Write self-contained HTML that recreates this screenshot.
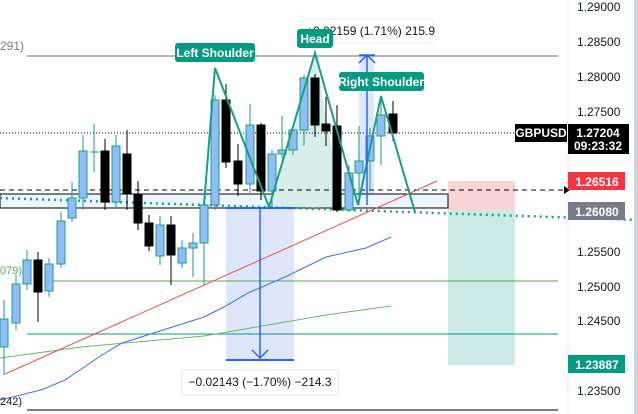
<!DOCTYPE html>
<html><head><meta charset="utf-8"><style>
html,body{margin:0;padding:0;background:#fff;}
svg{display:block;font-family:"Liberation Sans",sans-serif;}
</style></head><body>
<svg width="638" height="414" viewBox="0 0 638 414" xmlns="http://www.w3.org/2000/svg">
<rect width="638" height="414" fill="#fff"/>
<!-- boxes -->
<rect x="448" y="181" width="67" height="29" fill="#f9d4d4"/>
<rect x="448" y="210" width="67" height="155" fill="#cdebe6"/>
<rect x="226" y="208" width="68" height="152" fill="#dde6fb"/>
<rect x="359" y="55" width="15" height="150" fill="#dde6fb"/>
<rect x="0" y="194" width="448" height="14" fill="#eef6fd" stroke="#000" stroke-width="1"/>
<polygon points="269,207 315,53 342,206 360,207" fill="#d7eee9"/>
<!-- horizontal lines -->
<line x1="27" y1="56" x2="558" y2="56" stroke="#6b6b73" stroke-width="1"/>
<line x1="53" y1="281" x2="558" y2="281" stroke="#4caf50" stroke-width="1"/>
<line x1="27" y1="334" x2="558" y2="334" stroke="#089981" stroke-width="1"/>
<line x1="27" y1="410" x2="558" y2="410" stroke="#000" stroke-width="1"/>
<line x1="0" y1="190" x2="568" y2="190" stroke="#000" stroke-width="1" stroke-dasharray="5,4"/>
<line x1="0" y1="133" x2="517" y2="133" stroke="#000" stroke-width="1" stroke-dasharray="1,2"/>
<line x1="0" y1="198" x2="638" y2="220" stroke="#1a9e8a" stroke-width="2.5" stroke-dasharray="2,4"/>
<!-- MAs -->
<polyline points="0,358 81,347 204,336 326,315 391,306" fill="none" stroke="#66bb6a" stroke-width="1"/>
<polyline points="0,400 41,390 65,380 102,355 122,343 163,330 204,317 224,307 248,293 285,277 326,257 366,248 391,237" fill="none" stroke="#3d6ff0" stroke-width="1"/>
<line x1="5" y1="374" x2="437" y2="181" stroke="#f0504a" stroke-width="1"/>
<!-- candles -->
<g stroke-width="1">
<g stroke="#1a9e8a" fill="#90bdf7">
<line x1="4" y1="300" x2="4" y2="375"/><rect x="0" y="319" width="8" height="28"/>
<line x1="16" y1="275" x2="16" y2="330"/><rect x="12" y="284" width="8" height="39"/>
<line x1="27" y1="250" x2="27" y2="290"/><rect x="23" y="260" width="8" height="24"/>
<line x1="49" y1="258" x2="49" y2="297"/><rect x="45" y="264" width="8" height="27"/>
<line x1="61" y1="212" x2="61" y2="268"/><rect x="57" y="221" width="8" height="43"/>
<line x1="72" y1="182" x2="72" y2="222"/><rect x="68" y="198" width="8" height="20"/>
<line x1="83" y1="135" x2="83" y2="210"/><rect x="79" y="151" width="8" height="47"/>
<line x1="94" y1="124" x2="94" y2="172"/><line x1="90" y1="152" x2="99" y2="152"/>
<line x1="116" y1="135" x2="116" y2="208"/><rect x="112" y="146" width="8" height="56"/>
<line x1="160" y1="216" x2="160" y2="265"/><rect x="156" y="225" width="8" height="31"/>
<line x1="182" y1="240" x2="182" y2="268"/><rect x="178" y="248" width="8" height="15"/>
<line x1="193" y1="233" x2="193" y2="277"/><rect x="189" y="243" width="8" height="5"/>
<line x1="204" y1="200" x2="204" y2="285"/><rect x="200" y="205" width="8" height="38"/>
<line x1="215" y1="95" x2="215" y2="210"/><rect x="211" y="100" width="8" height="105"/>
<line x1="250" y1="104" x2="250" y2="193"/><rect x="246" y="125" width="8" height="59"/>
<line x1="272" y1="150" x2="272" y2="208"/><rect x="268" y="154" width="8" height="37"/>
<line x1="282" y1="116" x2="282" y2="158"/><rect x="278" y="150" width="8" height="4"/>
<line x1="293" y1="130" x2="293" y2="155"/><rect x="289" y="130" width="8" height="20"/>
<line x1="304" y1="75" x2="304" y2="146"/><rect x="300" y="78" width="8" height="52"/>
<line x1="349" y1="165" x2="349" y2="212"/><rect x="345" y="173" width="8" height="37"/>
<line x1="359" y1="126" x2="359" y2="205"/><rect x="355" y="161" width="8" height="12"/>
<line x1="370" y1="128" x2="370" y2="190"/><rect x="366" y="136" width="8" height="25"/>
<line x1="381" y1="100" x2="381" y2="165"/><rect x="377" y="115" width="8" height="21"/>
</g>
<g stroke="#000" fill="#000">
<line x1="38" y1="252" x2="38" y2="322"/><rect x="34" y="260" width="8" height="32"/>
<line x1="105" y1="139" x2="105" y2="210"/><rect x="101" y="151" width="8" height="51"/>
<line x1="127" y1="130" x2="127" y2="210"/><rect x="123" y="154" width="8" height="40"/>
<line x1="138" y1="181" x2="138" y2="230"/><rect x="134" y="194" width="8" height="29"/>
<line x1="149" y1="215" x2="149" y2="251"/><rect x="145" y="223" width="8" height="23"/>
<line x1="171" y1="216" x2="171" y2="285"/><rect x="167" y="225" width="8" height="30"/>
<line x1="226" y1="84" x2="226" y2="168"/><rect x="222" y="100" width="8" height="62"/>
<line x1="238" y1="144" x2="238" y2="196"/><rect x="234" y="161" width="8" height="23"/>
<line x1="261" y1="123" x2="261" y2="200"/><rect x="257" y="125" width="8" height="66"/>
<line x1="315" y1="74" x2="315" y2="137"/><rect x="311" y="78" width="8" height="47"/>
<line x1="326" y1="97" x2="326" y2="146"/><rect x="322" y="124" width="8" height="7"/>
<line x1="337" y1="105" x2="337" y2="212"/><rect x="333" y="126" width="8" height="84"/>
<line x1="393" y1="101" x2="393" y2="141"/><rect x="389" y="114" width="8" height="19"/>
</g></g>
<!-- pattern -->
<polyline points="204,205 215,68 269,207 315,53 358,205 381,96 415,212" fill="none" stroke="#1a9e8a" stroke-width="2"/>
<!-- measure arrows -->
<line x1="226" y1="208" x2="294" y2="208" stroke="#2962ff" stroke-width="2"/>
<line x1="226" y1="360" x2="294" y2="360" stroke="#2962ff" stroke-width="2"/>
<line x1="260" y1="208" x2="260" y2="358" stroke="#2962ff" stroke-width="1.5"/>
<polyline points="252,350 260,358 268,350" fill="none" stroke="#2962ff" stroke-width="1.5"/>
<line x1="367" y1="205" x2="367" y2="55" stroke="#2962ff" stroke-width="1.5"/>
<line x1="359" y1="55" x2="375" y2="55" stroke="#2962ff" stroke-width="1.5"/>
<polyline points="359,63 367,55 375,63" fill="none" stroke="#2962ff" stroke-width="1.5"/>
<!-- labels -->
<rect x="300" y="19" width="133" height="24" rx="3" fill="#fff" stroke="#eee"/>
<text x="306" y="35" font-size="12" fill="#131722">+0.02159 (1.71%) 215.9</text>
<rect x="175" y="43" width="80" height="19" rx="3" fill="#089981"/>
<text x="215" y="57" font-size="12" font-weight="bold" fill="#fff" text-anchor="middle">Left Shoulder</text>
<rect x="297" y="29" width="36" height="19" rx="3" fill="#089981"/>
<text x="315" y="43" font-size="12" font-weight="bold" fill="#fff" text-anchor="middle">Head</text>
<rect x="339" y="72" width="85" height="19" rx="3" fill="#089981"/>
<text x="381" y="86" font-size="12" font-weight="bold" fill="#fff" text-anchor="middle">Right Shoulder</text>
<rect x="182" y="370" width="156" height="25" rx="3" fill="#fff" stroke="#e6e6e6"/>
<text x="260" y="386" font-size="12" fill="#131722" text-anchor="middle">−0.02143 (−1.70%) −214.3</text>
<text x="0" y="50" font-size="12" fill="#787b86">291)</text>
<text x="0" y="274" font-size="11" fill="#4caf50">079)</text>
<text x="0" y="405" font-size="11" fill="#131722">242)</text>
<!-- axis -->
<line x1="568" y1="0" x2="568" y2="414" stroke="#e0e3eb"/>
<rect x="634" y="0" width="4" height="414" fill="#d1d4dc"/>
<g font-size="12" fill="#131722">
<text x="577" y="11">1.29000</text>
<text x="577" y="46">1.28500</text>
<text x="577" y="81">1.28000</text>
<text x="577" y="116">1.27500</text>
<text x="577" y="256">1.25500</text>
<text x="577" y="291">1.25000</text>
<text x="577" y="325">1.24500</text>
<text x="577" y="395">1.23500</text>
</g>
<rect x="515" y="124" width="52" height="18" fill="#000"/>
<text x="541" y="137" font-size="12" font-weight="bold" fill="#fff" text-anchor="middle">GBPUSD</text>
<rect x="568" y="124" width="61" height="30" fill="#000"/>
<text x="598" y="137" font-size="12" font-weight="bold" fill="#fff" text-anchor="middle">1.27204</text>
<text x="598" y="150" font-size="12" font-weight="bold" fill="#fff" text-anchor="middle">09:23:32</text>
<polygon points="564,186 570,190 564,194" fill="#000"/>
<rect x="568" y="172" width="57" height="18" fill="#f23645"/>
<text x="597" y="186" font-size="12" font-weight="bold" fill="#fff" text-anchor="middle">1.26516</text>
<rect x="568" y="202" width="57" height="18" fill="#787b86"/>
<text x="597" y="216" font-size="12" font-weight="bold" fill="#fff" text-anchor="middle">1.26080</text>
<rect x="568" y="355" width="57" height="18" fill="#089981"/>
<text x="597" y="369" font-size="12" font-weight="bold" fill="#fff" text-anchor="middle">1.23887</text>
</svg>
</body></html>
